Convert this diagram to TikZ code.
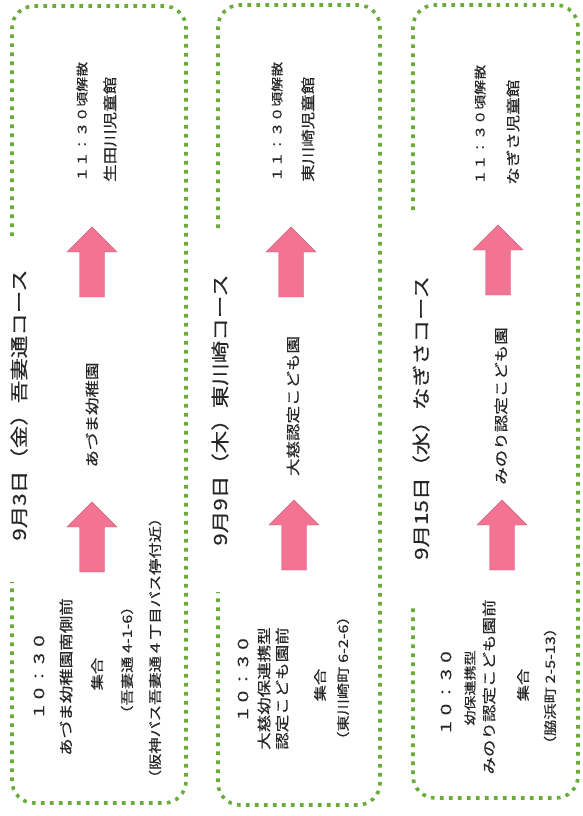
\documentclass[tikz,border=0pt]{standalone}
\usepackage{fontspec}
\setmainfont{Noto Sans CJK JP}[FakeStretch=1.25,FakeBold=0.4]
\usetikzlibrary{positioning}
\definecolor{dotgreen}{RGB}{106,172,58}
\definecolor{arrowpink}{RGB}{242,116,146}

\begin{document}
\begin{tikzpicture}[x=1pt,y=-1pt,
      every node/.style={inner sep=0pt,text=black!85},
      course/.style={draw=dotgreen,line width=3.6pt,dash pattern=on 3.6pt off 5.4pt,rounded corners=22pt},
      title/.style={rotate=90,font=\fontsize{18}{20}\selectfont},
      txt/.style={rotate=90,font=\fontsize{14}{16}\selectfont},
      small/.style={rotate=90,font=\fontsize{12}{14}\selectfont},
      note/.style={rotate=90,font=\fontsize{13}{15}\selectfont},
      goal/.style={anchor=west},
      bigarrow/.pic={\fill[arrowpink,draw=arrowpink!85!black,line width=0.4pt]
        (-12.5,0) -- (-12.5,-45) -- (-25,-45) -- (0,-70) -- (25,-45) -- (12.5,-45) -- (12.5,0) -- cycle;}]
      \useasboundingbox (0,0) rectangle (582,816);

      \draw[course] (12,236) -- (12,6) -- (186,6) -- (186,803) -- (12,803) -- (12,582);
      \draw[course] (218,228) -- (218,5) -- (380,5) -- (380,805) -- (218,805) -- (218,592);
      \draw[course] (413,210) -- (413,5) -- (578,5) -- (578,798) -- (413,798) -- (413,607);

      \node[title] (title_1) at (19,405) {9月3日（金）吾妻通コース};
      \node[txt]   (start_1) at (39,676) {１０：３０};
      \node[txt]   (meet_1)  at (66,677) {あづま幼稚園南側前};
      \node[note]  (gather_1) at (97,674) {集合};
      \node[note]  (addr_1)  at (127,660) {（吾妻通 4-1-6）};
      \node[note]  (bus_1)   at (155,648) {（阪神バス吾妻通４丁目バス停付近）};
      \node[txt]   (via_1)   at (92,415) {あづま幼稚園};
      \node[small,goal] (end_1)   at (82,182) {１１：３０頃解散};
      \node[txt,goal]   (place_1) at (110,182) {生田川児童館};

      \node[title] (title_2) at (220,410) {9月9日（木）東川崎コース};
      \node[txt]   (start_2) at (243,679) {１０：３０};
      \node[txt,goal] (meet_2)  at (264,750) {大慈幼保連携型};
      \node[txt,goal] (meet_2b) at (282,750) {認定こども園前};
      \node[note]  (gather_2) at (320,685) {集合};
      \node[note]  (addr_2)  at (343,678) {（東川崎町 6-2-6）};
      \node[txt]   (via_2)   at (293,406) {大慈認定こども園};
      \node[small,goal] (end_2)   at (277,182) {１１：３０頃解散};
      \node[txt,goal]   (place_2) at (308,182) {東川崎児童館};

      \node[title] (title_3) at (421,418) {9月15日（水）なぎさコース};
      \node[txt]   (start_3) at (446,692) {１０：３０};
      \node[small] (meet_3)  at (470,688) {幼保連携型};
      \node[txt]   (meet_3b) at (489,687) {みのり認定こども園前};
      \node[note]  (gather_3) at (523,685) {集合};
      \node[note]  (addr_3)  at (550,686) {（脇浜町 2-5-13）};
      \node[txt]   (via_3)   at (501,406) {みのり認定こども園};
      \node[small,goal] (end_3)   at (480,185) {１１：３０頃解散};
      \node[txt,goal]   (place_3) at (513,185) {なぎさ児童館};

      \foreach \x/\y in {92/297, 92/572, 291/297, 294/570, 498/295, 502/570}
        \pic at (\x,\y) {bigarrow};
    \end{tikzpicture}
\end{document}
